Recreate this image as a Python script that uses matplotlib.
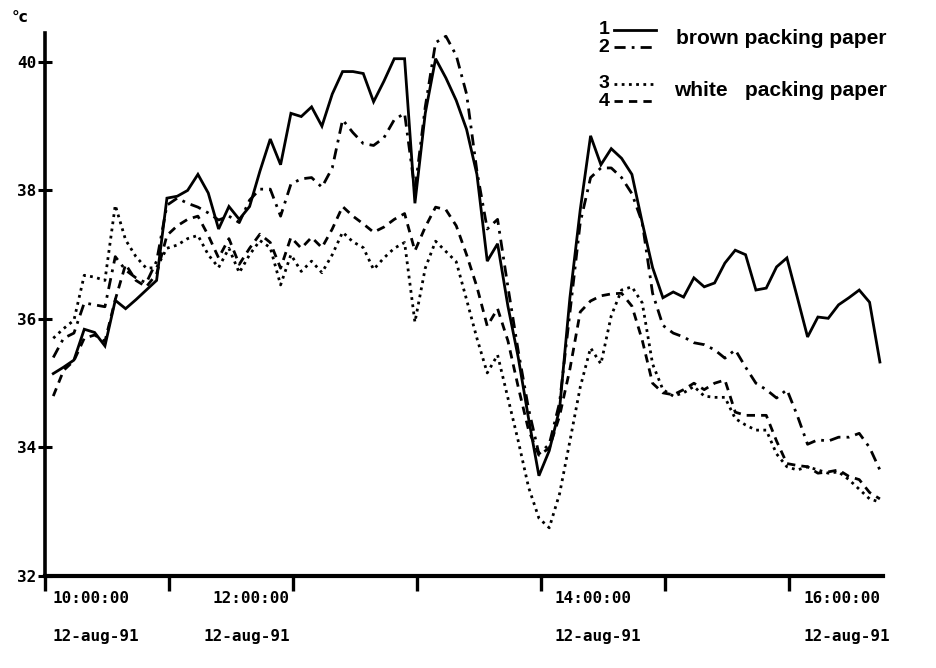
import matplotlib
matplotlib.use("Agg")
import matplotlib.pyplot as plt
import matplotlib.transforms as mtrans
import pandas as pd
from matplotlib.lines import Line2D

# ---------------- data (5-minute readings, 12-aug-91) ----------------
times = pd.date_range("1991-08-12 10:04", periods=81, freq="5min")

brown_1 = [35.15, 35.25, 35.36, 35.84, 35.79, 35.58, 36.29, 36.16, 36.30, 36.45,
           36.60, 37.88, 37.91, 38.00, 38.25, 37.96, 37.40, 37.75, 37.55, 37.75,
           38.30, 38.80, 38.40, 39.20, 39.15, 39.30, 39.00, 39.50, 39.85, 39.85,
           39.82, 39.38, 39.70, 40.05, 40.05, 37.80, 39.20, 40.05, 39.75, 39.40,
           38.95, 38.25, 36.90, 37.17, 36.20, 35.40, 34.45, 33.56, 33.95, 34.60,
           36.33, 37.70, 38.85, 38.40, 38.65, 38.50, 38.25, 37.50, 36.80, 36.33,
           36.42, 36.34, 36.64, 36.50, 36.56, 36.87, 37.07, 37.00, 36.45, 36.48,
           36.81, 36.95, 36.34, 35.72, 36.03, 36.01, 36.22, 36.33, 36.45, 36.26,
           35.33]

brown_2 = [35.40, 35.70, 35.78, 36.25, 36.22, 36.19, 36.97, 36.76, 36.64, 36.56,
           36.90, 37.77, 37.88, 37.80, 37.74, 37.65, 37.54, 37.60, 37.50, 37.85,
           38.02, 38.02, 37.60, 38.10, 38.18, 38.20, 38.05, 38.35, 39.10, 38.90,
           38.73, 38.70, 38.82, 39.10, 39.20, 38.00, 39.30, 40.30, 40.40, 40.10,
           39.50, 38.30, 37.40, 37.55, 36.50, 35.50, 34.60, 33.90, 34.05, 34.70,
           36.10, 37.50, 38.20, 38.35, 38.35, 38.20, 37.95, 37.50, 36.40, 35.90,
           35.78, 35.72, 35.63, 35.60, 35.52, 35.39, 35.52, 35.25, 35.00, 34.90,
           34.77, 34.90, 34.50, 34.05, 34.12, 34.10, 34.16, 34.16, 34.22, 34.00,
           33.65]

white_3 = [35.70, 35.85, 35.98, 36.68, 36.65, 36.60, 37.77, 37.23, 36.97, 36.79,
           36.80, 37.10, 37.15, 37.25, 37.30, 37.00, 36.80, 37.10, 36.72, 37.00,
           37.22, 37.11, 36.53, 37.00, 36.74, 36.90, 36.72, 37.00, 37.35, 37.20,
           37.11, 36.77, 36.95, 37.10, 37.19, 35.95, 36.79, 37.21, 37.05, 36.89,
           36.30, 35.70, 35.16, 35.44, 34.77, 34.10, 33.38, 32.90, 32.75, 33.28,
           34.10, 34.94, 35.55, 35.30, 36.05, 36.45, 36.50, 36.25, 35.30, 34.90,
           34.80, 34.85, 34.95, 34.80, 34.78, 34.78, 34.45, 34.35, 34.27, 34.27,
           33.90, 33.70, 33.65, 33.70, 33.65, 33.60, 33.62, 33.50, 33.35, 33.20,
           33.15]

white_4 = [34.80, 35.20, 35.35, 35.70, 35.75, 35.65, 36.30, 36.85, 36.60, 36.50,
           36.70, 37.30, 37.45, 37.55, 37.60, 37.30, 36.95, 37.25, 36.85, 37.10,
           37.32, 37.19, 36.79, 37.27, 37.10, 37.27, 37.11, 37.40, 37.75, 37.60,
           37.48, 37.35, 37.43, 37.55, 37.64, 37.06, 37.43, 37.74, 37.70, 37.45,
           37.00, 36.50, 35.89, 36.16, 35.66, 34.94, 34.27, 33.88, 33.99, 34.49,
           35.22, 36.11, 36.28, 36.36, 36.39, 36.40, 36.20, 35.67, 35.00, 34.85,
           34.82, 34.90, 35.00, 34.90, 35.00, 35.05, 34.55, 34.50, 34.50, 34.50,
           34.10, 33.75, 33.72, 33.70, 33.60, 33.62, 33.65, 33.55, 33.50, 33.30,
           33.20]

y_ticks = [32, 34, 36, 38, 40]
x_major = ["1991-08-12 10:00", "1991-08-12 12:00", "1991-08-12 14:00", "1991-08-12 16:00"]
x_minor = ["1991-08-12 11:00", "1991-08-12 13:00", "1991-08-12 15:00"]
x_labels = ["10:00:00\n12-aug-91", "12:00:00\n12-aug-91",
            "14:00:00\n12-aug-91", "16:00:00\n12-aug-91"]
legend_nums = ["1", "2", "3", "4"]
legend_groups = ["brown packing paper", "white   packing paper"]

# ---------------- figure ----------------
W, H = 937, 668
fig = plt.figure(figsize=(W / 100, H / 100), dpi=100)
fig.patch.set_facecolor("white")
ax = fig.add_axes([45 / W, 1 - 576 / H, 838 / W, (576 - 33) / H])

styles = [
    dict(ls="-", lw=2.0),
    dict(ls=(0, (4, 2.2, 1, 2.2)), lw=2.0),
    dict(ls=(0, (1, 1.6)), lw=2.0),
    dict(ls=(0, (3, 2.2)), lw=2.0),
]
for vals, st in zip([brown_1, brown_2, white_3, white_4], styles):
    ax.plot(times, vals, color="black", solid_joinstyle="miter",
            dash_capstyle="butt", **st)

ax.set_xlim(pd.Timestamp("1991-08-12 10:00"), pd.Timestamp("1991-08-12 16:45:30"))
ax.set_ylim(32, 40.45)

for s in ["top", "right"]:
    ax.spines[s].set_visible(False)
ax.spines["left"].set_linewidth(2.6)
ax.spines["bottom"].set_linewidth(3.0)

mono = dict(family="DejaVu Sans Mono", weight="bold", size=11.5)

ax.set_yticks(y_ticks)
ax.set_yticklabels([str(v) for v in y_ticks], fontdict=mono)
ax.tick_params(axis="y", direction="inout", length=10, width=2.2, pad=1)

ax.set_xticks(pd.to_datetime(x_major))
ax.set_xticks(pd.to_datetime(x_minor), minor=True)
ax.set_xticklabels(x_labels, fontdict=mono, linespacing=2.9)
ax.tick_params(axis="x", which="both", direction="out", length=11, width=2.4, pad=0)
has = ["left", "right", "left", "left"]
offs = [8, -3, 14, 15]
for lab, ha, o in zip(ax.get_xticklabels(), has, offs):
    lab.set_ha(ha)
    lab.set_transform(lab.get_transform() +
                      mtrans.ScaledTranslation(o / 100, 0, fig.dpi_scale_trans))

# unit label
fig.text(12 / W, 1 - 18 / H, "°c", fontsize=11, fontweight="bold",
         family="DejaVu Sans", ha="left", va="center")

# hand-drawn style legend
leg_y = [30, 47, 84, 101]
for num, yy, st in zip(legend_nums, leg_y, styles):
    fig.text(604 / W, 1 - yy / H, num, fontsize=14, fontweight="bold",
             family="Liberation Sans", ha="center", va="center")
    fig.add_artist(Line2D([614 / W, 656 / W], [1 - yy / H, 1 - yy / H],
                          transform=fig.transFigure, color="black", **st))
fig.text(676 / W, 1 - 38 / H, legend_groups[0], fontsize=15, fontweight="bold",
         family="Liberation Sans", ha="left", va="center")
fig.text(674 / W, 1 - 90 / H, legend_groups[1], fontsize=15, fontweight="bold",
         family="Liberation Sans", ha="left", va="center")

fig.savefig("out.png", dpi=100, facecolor="white")
